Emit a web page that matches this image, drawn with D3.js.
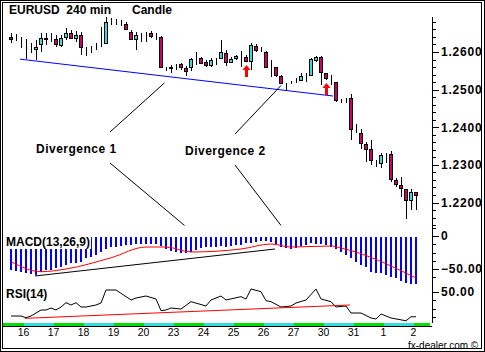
<!DOCTYPE html>
<html lang="en">
<head>
<meta charset="UTF-8">
<title>EURUSD 240 min</title>
<script src="https://cdn.jsdelivr.net/npm/d3@7/dist/d3.min.js"></script>
<style>
  body { margin: 0; background: #fff; }
  svg { display: block; font-family: "Liberation Sans", Arial, sans-serif; }
</style>
</head>
<body>
<svg id="mainsvg" width="485" height="352"></svg>
<script>
// ---- data ----
// candles: open, high, low, close
const opens  = [1.2639,1.2639,1.2635,1.2611,1.2608,1.2608,1.2620,1.2638,1.2635,1.2634,1.2619,1.2641,1.2650,1.2636,1.2645,1.2610,1.2611,1.2616,1.2623,1.2625,
                1.2680,1.2680,1.2676,1.2674,1.2654,1.2634,1.2645,1.2647,1.2650,1.2645,1.2639,1.2557,1.2557,1.2565,1.2567,1.2558,1.2561,1.2581,1.2583,1.2574,
                1.2565,1.2581,1.2583,1.2597,1.2574,1.2583,1.2588,1.2586,1.2576,1.2616,1.2607,1.2601,1.2557,1.2559,1.2536,1.2515,1.2521,1.2526,1.2526,1.2539,
                1.2539,1.2579,1.2588,1.2543,1.2526,1.2519,1.2470,1.2472,1.2477,1.2395,1.2384,1.2355,1.2341,1.2310,1.2306,1.2326,1.2328,1.2260,1.2247,1.2235,
                1.2207,1.2227];
const highs  = [1.2651,1.2648,1.2640,1.2635,1.2624,1.2632,1.2650,1.2650,1.2650,1.2645,1.2645,1.2664,1.2658,1.2656,1.2654,1.2614,1.2616,1.2624,1.2667,1.2692,
                1.2690,1.2688,1.2685,1.2681,1.2658,1.2654,1.2651,1.2654,1.2657,1.2651,1.2643,1.2561,1.2565,1.2568,1.2572,1.2563,1.2583,1.2601,1.2588,1.2579,
                1.2583,1.2583,1.2632,1.2605,1.2588,1.2592,1.2603,1.2592,1.2623,1.2621,1.2612,1.2603,1.2579,1.2561,1.2539,1.2518,1.2524,1.2530,1.2543,1.2543,
                1.2583,1.2589,1.2589,1.2545,1.2539,1.2521,1.2474,1.2477,1.2488,1.2409,1.2395,1.2362,1.2366,1.2313,1.2332,1.2332,1.2338,1.2264,1.2269,1.2235,
                1.2235,1.2229];
const lows   = [1.2625,1.2629,1.2611,1.2581,1.2597,1.2579,1.2600,1.2619,1.2627,1.2613,1.2613,1.2632,1.2635,1.2627,1.2592,1.2589,1.2598,1.2605,1.2614,1.2623,
                1.2672,1.2672,1.2669,1.2658,1.2632,1.2605,1.2627,1.2627,1.2636,1.2632,1.2557,1.2550,1.2545,1.2552,1.2552,1.2536,1.2550,1.2565,1.2570,1.2561,
                1.2561,1.2565,1.2581,1.2563,1.2570,1.2579,1.2561,1.2574,1.2552,1.2601,1.2601,1.2557,1.2534,1.2534,1.2515,1.2497,1.2515,1.2518,1.2524,1.2521,
                1.2536,1.2574,1.2512,1.2526,1.2512,1.2468,1.2464,1.2464,1.2366,1.2385,1.2341,1.2308,1.2300,1.2295,1.2291,1.2306,1.2255,1.2240,1.2215,1.2155,
                1.2180,1.2180];
const closes = [1.2634,1.2639,1.2635,1.2611,1.2608,1.2614,1.2638,1.2634,1.2635,1.2621,1.2636,1.2650,1.2636,1.2645,1.2612,1.2610,1.2611,1.2616,1.2623,1.2681,
                1.2680,1.2680,1.2676,1.2660,1.2634,1.2645,1.2645,1.2647,1.2643,1.2645,1.2559,1.2557,1.2561,1.2565,1.2561,1.2550,1.2581,1.2581,1.2572,1.2565,
                1.2579,1.2581,1.2601,1.2574,1.2581,1.2589,1.2588,1.2577,1.2619,1.2605,1.2607,1.2559,1.2557,1.2539,1.2518,1.2515,1.2521,1.2526,1.2536,1.2539,
                1.2581,1.2588,1.2546,1.2530,1.2526,1.2472,1.2470,1.2472,1.2395,1.2395,1.2357,1.2343,1.2313,1.2310,1.2326,1.2326,1.2262,1.2249,1.2238,1.2207,
                1.2227,1.2220];

// MACD(13,26,9) bars, one per candle
const macd = [-51.5,-52.6,-54.5,-56.0,-57.6,-59.0,-54.5,-51.5,-51.5,-48.5,-46.5,-44.0,-41.0,-40.5,-39.4,-33.3,-31.4,-28.8,-23.8,-19.7,
              -16.7,-16.2,-15.2,-13.6,-13.6,-12.1,-12.1,-12.1,-12.1,-12.1,-15.2,-20.2,-22.3,-23.8,-26.2,-26.2,-24.7,-21.2,-18.6,-17.1,
              -17.1,-16.2,-15.2,-16.2,-15.2,-13.6,-13.6,-11.1,-10.2,-8.6,-7.1,-7.6,-8.6,-12.1,-16.2,-18.6,-20.2,-18.6,-15.2,-13.6,
              -11.1,-12.1,-12.1,-13.6,-16.2,-20.2,-23.8,-28.8,-33.8,-38.9,-43.9,-47.4,-54.1,-55.6,-56.5,-59.1,-61.7,-64.1,-67.7,-70.8,
              -72.7,-73.2];
// signal line, sampled at candle index
const signalIdx = [0, 6, 11, 20, 27, 31, 36, 46, 52, 56, 64, 66, 81];
const signalVal = [-38.9, -54.1, -50.0, -33.0, -16.7, -16.7, -24.2, -19.7, -12.1, -16.7, -15.2, -18.2, -63.6];

// RSI(14), sampled at candle index
const rsiIdx = [0, 2, 3, 4, 6, 7, 8, 9, 10, 11, 12, 13, 14, 15, 17, 18, 19, 21, 24, 25, 27, 29, 30, 31, 32, 34, 36, 39, 40, 42, 43, 46,
                47, 48, 50, 51, 52, 54, 56, 57, 59, 61, 62, 64, 65, 67, 68, 70, 72, 73, 74, 76, 79, 80, 81];
const rsiVal = [21.2, 21.2, 19.2, 21.2, 28.4, 28.4, 30.8, 28.4, 32.0, 37.2, 34.4, 37.2, 32.0, 32.0, 34.4, 36.8, 52.4, 52.4, 40.4, 42.8,
                45.2, 41.6, 27.6, 28.4, 30.8, 29.6, 38.4, 33.2, 40.4, 45.2, 40.4, 44.4, 41.6, 53.6, 50.4, 39.6, 38.4, 32.0, 33.2, 36.8,
                40.4, 53.6, 41.6, 38.4, 32.0, 33.2, 24.8, 24.8, 18.8, 17.6, 23.6, 18.8, 15.5, 20.3, 20.3];

// trend lines [index, value]
const priceTrend = [[1.8, 1.2581], [64.4, 1.2483]];
const macdTrend  = [[4.8, -60.6], [52.8, -19.7]];
const rsiTrend   = [[2.8, 18.4], [67.8, 34.4]];
const arrowIdx = [47, 63];

const dayLabels = ['16','17','18','19','20','23','24','25','26','27','30','31','1','2'];
const dayStart  = [3, 9, 15, 21, 27, 33, 39, 45, 51, 57, 63, 69, 75, 81];

const priceTicks = [1.2200, 1.2300, 1.2400, 1.2500, 1.2600];

// ---- layout ----
const svg = d3.select('#mainsvg');
const axisX = 432;
const n = closes.length;

const x = d3.scaleLinear().domain([0, n - 1]).range([11, 416]);
const yP = d3.scaleLinear().domain([1.22, 1.26]).range([202.5, 52]);
const yM = d3.scaleLinear().domain([-50, 0]).range([269, 236]);
const yR = d3.scaleLinear().domain([20, 50]).range([317, 292]);

const MAGENTA = '#cc0066', CYAN = '#33dddd';

svg.append('rect').attr('width', 485).attr('height', 352).attr('fill', '#fff');

// frame (double line)
svg.append('rect').attr('x', 0.5).attr('y', 0.5).attr('width', 484).attr('height', 351)
    .attr('fill', 'none').attr('stroke', '#000');
svg.append('rect').attr('x', 2.5).attr('y', 2.5).attr('width', 479).attr('height', 346)
    .attr('fill', 'none').attr('stroke', '#000');

const plot = svg.append('g').attr('shape-rendering', 'crispEdges');

// price trend line
plot.append('line')
    .attr('x1', x(priceTrend[0][0])).attr('y1', yP(priceTrend[0][1]))
    .attr('x2', x(priceTrend[1][0])).attr('y2', yP(priceTrend[1][1]))
    .attr('stroke', '#0000ff').attr('shape-rendering', 'auto');

// candles
const idx = d3.range(n);
const cx = i => Math.round(x(i));
plot.selectAll('line.wick').data(idx).join('line').attr('class', 'wick')
    .attr('x1', i => cx(i) + 0.5).attr('x2', i => cx(i) + 0.5)
    .attr('y1', i => yP(highs[i])).attr('y2', i => yP(lows[i]))
    .attr('stroke', '#000');

plot.selectAll('rect.body').data(idx).join('rect').attr('class', 'body')
    .attr('x', i => cx(i) - 1.5)
    .attr('width', 3)
    .attr('y', i => Math.round(yP(Math.max(opens[i], closes[i]))) + 0.5)
    .attr('height', i => Math.max(0, Math.round(yP(Math.min(opens[i], closes[i]))) - Math.round(yP(Math.max(opens[i], closes[i])))))
    .attr('fill', i => opens[i] === closes[i] ? '#000' : (closes[i] > opens[i] ? CYAN : MAGENTA))
    .attr('stroke', '#000');

// red arrows
arrowIdx.forEach(i => {
    const ax = cx(i) + 0.5, ay = Math.round(yP(lows[i])) + 3;
    svg.append('path')
        .attr('d', `M${ax},${ay} L${ax + 4},${ay + 5} L${ax + 1.5},${ay + 5} L${ax + 1.5},${ay + 12} L${ax - 1.5},${ay + 12} L${ax - 1.5},${ay + 5} L${ax - 4},${ay + 5} Z`)
        .attr('fill', '#ff0000');
});

// MACD bars
plot.selectAll('rect.macd').data(idx).join('rect').attr('class', 'macd')
    .attr('x', i => cx(i) - 1)
    .attr('width', 2)
    .attr('y', yM(0) + 1)
    .attr('height', i => yM(macd[i]) - yM(0) - 1)
    .attr('fill', '#0000ff');

const signalLine = d3.line().x(d => x(d[0])).y(d => yM(d[1])).curve(d3.curveMonotoneX);
svg.append('path').datum(signalIdx.map((k, j) => [k, signalVal[j]]))
    .attr('d', signalLine).attr('fill', 'none').attr('stroke', '#ff0000');
svg.append('line')
    .attr('x1', x(macdTrend[0][0])).attr('y1', yM(macdTrend[0][1]))
    .attr('x2', x(macdTrend[1][0])).attr('y2', yM(macdTrend[1][1]))
    .attr('stroke', '#000');

// RSI
const rsiLine = d3.line().x(d => x(d[0])).y(d => yR(d[1]));
svg.append('path').datum(rsiIdx.map((k, j) => [k, rsiVal[j]]))
    .attr('d', rsiLine).attr('fill', 'none').attr('stroke', '#000');
svg.append('line')
    .attr('x1', x(rsiTrend[0][0])).attr('y1', yR(rsiTrend[0][1]))
    .attr('x2', x(rsiTrend[1][0])).attr('y2', yR(rsiTrend[1][1]))
    .attr('stroke', '#ff0000');

// time bar
const dayEdges = [-3].concat(dayStart);
dayEdges.forEach((s, j) => {
    const x0 = j === 0 ? 3 : x(s) - 2.5;
    const x1 = j < dayEdges.length - 1 ? x(dayEdges[j + 1]) - 2.5 : 430;
    plot.append('rect').attr('x', x0).attr('y', 323).attr('width', x1 - x0).attr('height', 3)
        .attr('fill', j % 2 === 0 ? '#00e000' : '#33dddd');
});
plot.append('line').attr('x1', 3).attr('x2', axisX).attr('y1', 326.5).attr('y2', 326.5).attr('stroke', '#000');

svg.selectAll('text.day').data(dayLabels).join('text').attr('class', 'day')
    .attr('x', (d, j) => x(dayStart[j]) - 2.5)
    .attr('y', 335.5)
    .attr('text-anchor', 'middle')
    .attr('font-size', 10.5)
    .text(d => d);

// right axes
plot.append('line').attr('x1', axisX + 0.5).attr('x2', axisX + 0.5).attr('y1', 17).attr('y2', 323).attr('stroke', '#000');

function rightAxis(scale, minor, major, fmt) {
    const gMinor = plot.append('g').attr('transform', `translate(${axisX},0)`)
        .call(d3.axisRight(scale).tickValues(minor).tickSize(4).tickFormat(''));
    gMinor.select('.domain').remove();
    const gMajor = svg.append('g').attr('transform', `translate(${axisX},0)`)
        .call(d3.axisRight(scale).tickValues(major).tickSize(7).tickPadding(2).tickFormat(fmt));
    gMajor.select('.domain').remove();
    gMajor.selectAll('text').attr('font-size', 12).attr('font-weight', 'bold')
        .attr('font-family', '"Liberation Sans", Arial, sans-serif').attr('letter-spacing', 0.8).attr('fill', '#000');
    gMajor.selectAll('line').attr('shape-rendering', 'crispEdges');
}
rightAxis(yP, d3.range(1.2140, 1.2685, 0.002), priceTicks, d3.format('.4f'));
rightAxis(yM, [12.5, -12.5, -25, -37.5, -62.5], [0, -50], d => d === 0 ? '0' : d3.format('.2f')(d));
rightAxis(yR, [40, 30, 20], [50], d3.format('.2f'));

// labels
function label(txt, lx, ly, opts = {}) {
    const t = svg.append('text').attr('x', lx).attr('y', ly)
        .attr('font-size', opts.size || 12)
        .attr('font-weight', opts.weight || 'bold')
        .attr('letter-spacing', opts.ls || 0)
        .attr('xml:space', 'preserve')
        .style('white-space', 'pre')
        .text(txt);
    if (opts.bg) {
        const b = t.node().getBBox();
        svg.insert('rect', () => t.node())
            .attr('x', b.x - 1).attr('y', b.y).attr('width', b.width + 2).attr('height', b.height)
            .attr('fill', '#fff');
    }
    return t;
}
label('EURUSD  240 min', 9, 14);
label('Candle', 132, 14);
label('MACD(13,26,9)', 6, 246, {bg: true});
label('RSI(14)', 6, 298, {bg: true});
label('fx-dealer.com \u00a9', 408, 348.5, {size: 10, weight: 'normal'});

// divergence annotations
const notes = [
    {text: 'Divergence 1', lx: 36, ly: 153, sx: 110, up: [30.7, 1.2518], down: [34.7, 1.2139]},
    {text: 'Divergence 2', lx: 185, ly: 155, sx: 235, up: [54.0, 1.2511], down: [54.0, 1.2139]}
];
notes.forEach(nt => {
    label(nt.text, nt.lx, nt.ly, {ls: 0.5});
    svg.append('line').attr('x1', nt.sx).attr('y1', nt.ly - 21).attr('x2', x(nt.up[0])).attr('y2', yP(nt.up[1])).attr('stroke', '#000');
    svg.append('line').attr('x1', nt.sx).attr('y1', nt.ly + 10).attr('x2', x(nt.down[0])).attr('y2', yP(nt.down[1])).attr('stroke', '#000');
});
</script>
</body>
</html>
